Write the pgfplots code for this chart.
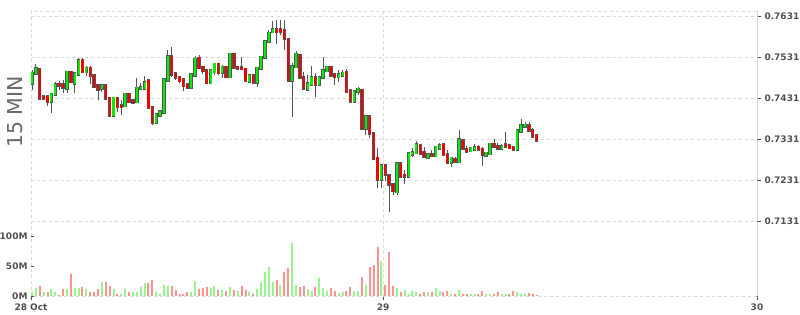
\documentclass[border=0pt]{standalone}
\usepackage{pgfplots}
\pgfplotsset{compat=1.18}
\usepackage{pgfplotstable}
\usepackage{fontspec}
\setmainfont{DejaVu Sans}
\definecolor{cgreen}{RGB}{0,240,0}
\definecolor{cred}{RGB}{240,0,0}
\definecolor{cline}{RGB}{85,85,85}
\definecolor{vgreen}{RGB}{150,245,140}
\definecolor{vred}{RGB}{255,145,145}
\definecolor{gridc}{RGB}{215,215,215}
\definecolor{lblc}{RGB}{80,80,80}
\definecolor{titlec}{RGB}{105,105,105}

\pgfplotstableread{
i o h l c
0 0.74673 0.74996 0.74509 0.74916
1 0.74916 0.75135 0.74899 0.75020
2 0.74996 0.75044 0.74290 0.74307
3 0.74346 0.74363 0.74290 0.74307
4 0.74346 0.74387 0.74120 0.74242
5 0.74242 0.74436 0.73957 0.74405
6 0.74405 0.74712 0.74387 0.74631
7 0.74649 0.74729 0.74509 0.74624
8 0.74631 0.74753 0.74436 0.74576
9 0.74551 0.74947 0.74436 0.74940
10 0.74940 0.74972 0.74680 0.74712
11 0.74673 0.74923 0.74429 0.74899
12 0.74899 0.75296 0.74874 0.75215
13 0.75215 0.75281 0.74923 0.74955
14 0.74955 0.75093 0.74850 0.75037
15 0.75037 0.75093 0.74649 0.74857
16 0.74857 0.74874 0.74583 0.74607
17 0.74607 0.74631 0.74266 0.74527
18 0.74558 0.74656 0.74460 0.74607
19 0.74607 0.74631 0.74290 0.74307
20 0.74307 0.74339 0.73853 0.73901
21 0.73901 0.74339 0.73877 0.74307
22 0.74307 0.74339 0.73974 0.74103
23 0.74127 0.74266 0.73901 0.74103
24 0.74127 0.74436 0.74120 0.74405
25 0.74405 0.74436 0.74193 0.74225
26 0.74242 0.74266 0.74193 0.74217
27 0.74225 0.74802 0.74217 0.74551
28 0.74551 0.74680 0.74509 0.74566
29 0.74551 0.74850 0.74534 0.74687
30 0.74729 0.74753 0.74071 0.74088
31 0.74088 0.74096 0.73657 0.73723
32 0.73723 0.73926 0.73682 0.73901
33 0.73901 0.74023 0.73877 0.73982
34 0.73974 0.74777 0.73926 0.74753
35 0.74753 0.75483 0.74729 0.75320
36 0.75320 0.75563 0.74826 0.74899
37 0.74899 0.74923 0.74753 0.74819
38 0.74802 0.74826 0.74680 0.74736
39 0.74753 0.74777 0.74485 0.74614
40 0.74631 0.74656 0.74558 0.74576
41 0.74576 0.74899 0.74558 0.74874
42 0.74874 0.75344 0.74850 0.75257
43 0.75281 0.75361 0.75044 0.75052
44 0.75061 0.75093 0.74899 0.74979
45 0.74979 0.75020 0.74680 0.74687
46 0.74687 0.74996 0.74680 0.74979
47 0.74955 0.75166 0.74874 0.75135
48 0.75135 0.75166 0.74874 0.74930
49 0.74940 0.75117 0.74801 0.75061
50 0.75061 0.75093 0.74801 0.74833
51 0.74833 0.75386 0.74801 0.75379
52 0.75379 0.75386 0.75044 0.75061
53 0.75061 0.75093 0.74996 0.75037
54 0.75044 0.75312 0.74996 0.75027
55 0.75013 0.75044 0.74704 0.74753
56 0.74729 0.74874 0.74680 0.74850
57 0.74850 0.74874 0.74656 0.74697
58 0.74697 0.75069 0.74576 0.75037
59 0.75037 0.75312 0.75020 0.75305
60 0.75305 0.75702 0.75288 0.75685
61 0.75702 0.75969 0.75677 0.75889
62 0.75928 0.76188 0.75896 0.75969
63 0.75969 0.76212 0.75629 0.75928
64 0.75969 0.76212 0.75847 0.75945
65 0.75952 0.76212 0.75483 0.75767
66 0.75726 0.75750 0.74729 0.74753
67 0.74753 0.75166 0.73840 0.75077
68 0.75077 0.75459 0.75044 0.75379
69 0.75344 0.75386 0.74801 0.74819
70 0.74802 0.74947 0.74509 0.74551
71 0.74534 0.74874 0.74509 0.74656
72 0.74649 0.75093 0.74607 0.74802
73 0.74802 0.74923 0.74346 0.74649
74 0.74649 0.74802 0.74607 0.74802
75 0.74819 0.75305 0.74801 0.74979
76 0.74979 0.75068 0.74947 0.75061
77 0.75061 0.75093 0.74826 0.74874
78 0.74874 0.74923 0.74631 0.74833
79 0.74833 0.74996 0.74704 0.74874
80 0.74874 0.74996 0.74850 0.74916
81 0.74940 0.75020 0.74460 0.74485
82 0.74485 0.74509 0.74217 0.74242
83 0.74242 0.74509 0.74217 0.74468
84 0.74485 0.74583 0.74387 0.74527
85 0.74502 0.74534 0.73560 0.73578
86 0.73578 0.73877 0.73415 0.73860
87 0.73860 0.73877 0.73341 0.73455
88 0.73439 0.73463 0.72806 0.72847
89 0.72847 0.73099 0.72125 0.72344
90 0.72344 0.72709 0.72125 0.72666
91 0.72666 0.72709 0.72296 0.72459
92 0.72424 0.72466 0.71549 0.72215
93 0.72198 0.72247 0.71954 0.72059
94 0.72035 0.72733 0.71954 0.72709
95 0.72709 0.72733 0.72393 0.72417
96 0.72434 0.72563 0.72223 0.72417
97 0.72417 0.73001 0.72369 0.72952
98 0.72945 0.73099 0.72879 0.72984
99 0.72984 0.73269 0.72952 0.73172
100 0.73148 0.73172 0.72928 0.72970
101 0.72994 0.73123 0.72879 0.72904
102 0.72871 0.72977 0.72830 0.72928
103 0.72936 0.73050 0.72879 0.72921
104 0.72911 0.73148 0.72879 0.73116
105 0.73099 0.73220 0.73074 0.73148
106 0.73172 0.73228 0.72904 0.72945
107 0.72928 0.73050 0.72733 0.72750
108 0.72750 0.72879 0.72627 0.72847
109 0.72823 0.72879 0.72757 0.72782
110 0.72765 0.73536 0.72757 0.73293
111 0.73276 0.73293 0.73074 0.73091
112 0.73067 0.73148 0.73001 0.73026
113 0.73033 0.73123 0.73001 0.73091
114 0.73074 0.73196 0.73050 0.73106
115 0.73116 0.73172 0.73026 0.73067
116 0.73067 0.73123 0.72666 0.72945
117 0.72928 0.73001 0.72879 0.72970
118 0.72960 0.73220 0.72928 0.73188
119 0.73188 0.73310 0.73123 0.73148
120 0.73131 0.73220 0.73074 0.73091
121 0.73099 0.73196 0.73074 0.73123
122 0.73172 0.73480 0.73123 0.73148
123 0.73148 0.73196 0.73074 0.73106
124 0.73106 0.73148 0.73050 0.73067
125 0.73067 0.73512 0.73050 0.73512
126 0.73512 0.73796 0.73487 0.73633
127 0.73626 0.73730 0.73584 0.73650
128 0.73633 0.73730 0.73512 0.73536
129 0.73519 0.73584 0.73366 0.73390
130 0.73390 0.73439 0.73269 0.73293
}\candles

\begin{document}
\begin{tikzpicture}
\begin{axis}[
  at={(0,0)}, anchor=south west,
  scale only axis, width=726pt, height=285pt,
  xmin=-0.258, xmax=186.76, ymin=0.69497, ymax=0.76431,
  xtick={-0.258,90.42,186.76}, xticklabels={28 Oct,29,30},
  ytick={0.7131,0.7231,0.7331,0.7431,0.7531,0.7631},
  yticklabels={0.7131,0.7231,0.7331,0.7431,0.7531,0.7631},
  xtick pos=bottom, ytick pos=right, yticklabel pos=right,
  tick align=outside, major tick length=4pt,
  tick style={draw=lblc, line width=0.8pt},
  tick label style={font=\bfseries\fontsize{9}{10}\selectfont, text=lblc},
  xmajorgrids, ymajorgrids,
  grid style={draw=gridc, dash pattern=on 3pt off 3pt, line width=0.8pt},
  axis line style={draw=gridc, dash pattern=on 3pt off 3pt, line width=0.8pt},
]
% wicks: low to high
\addplot[draw=none, mark=none, forget plot,
  error bars/.cd, y dir=plus, y explicit, error mark=none,
  error bar style={draw=cline, solid, line width=0.8pt}]
  table[x=i, y=l, y error expr={\thisrow{h}-\thisrow{l}}] \candles;
% body outlines
\addplot[draw=none, mark=none, forget plot,
  error bars/.cd, y dir=plus, y explicit, error mark=none,
  error bar style={draw=cline, solid, line width=3.4pt, line cap=rect}]
  table[x=i, y expr={min(\thisrow{o},\thisrow{c})},
        y error expr={abs(\thisrow{c}-\thisrow{o})}] \candles;
% rising bodies
\addplot[draw=none, mark=none, forget plot,
  error bars/.cd, y dir=plus, y explicit, error mark=none,
  error bar style={draw=cgreen, solid, line width=2.1pt, line cap=rect}]
  table[x=i, y expr={\thisrow{c}>=\thisrow{o} ? \thisrow{o} : nan},
        y error expr={abs(\thisrow{c}-\thisrow{o})}] \candles;
% falling bodies
\addplot[draw=none, mark=none, forget plot,
  error bars/.cd, y dir=plus, y explicit, error mark=none,
  error bar style={draw=cred, solid, line width=2.1pt, line cap=rect}]
  table[x=i, y expr={\thisrow{c}<\thisrow{o} ? \thisrow{c} : nan},
        y error expr={abs(\thisrow{c}-\thisrow{o})}] \candles;
\end{axis}
\begin{axis}[
  at={(0,0)}, anchor=south west,
  scale only axis, width=726pt, height=285pt,
  xmin=-0.258, xmax=186.76, ymin=0, ymax=475,
  axis x line=none, axis y line*=left, y axis line style={draw=none},
  ytick={0,50,100}, yticklabels={0M,50M,100M},
  ytick pos=left, tick align=inside, major tick length=3pt,
  tick style={draw=lblc, line width=0.8pt},
  tick label style={font=\bfseries\fontsize{9}{10}\selectfont, text=lblc},
]
\addplot[ycomb, draw=vgreen, line width=2pt] coordinates {
(0,7)(1,14)(3,6)(5,12)(6,6)(9,11)(11,14)(12,14)(14,12)(18,24)(21,12)(23,3)(24,11)(26,6)(27,6)(28,15)(29,21)(32,7)(33,3)(34,19)(35,17)(41,7)(42,25)(46,14)(47,17)(49,10)(51,15)(53,8)(56,7)(58,12)(59,24)(60,40)(61,48)(62,23)(64,19)(67,88)(68,19)(71,11)(72,9)(74,30)(75,13)(76,8)(79,5)(80,7)(83,8)(84,8)(86,18)(90,59)(94,13)(96,10)(97,4)(98,8)(99,7)(102,7)(104,13)(105,8)(108,4)(110,10)(113,4)(114,4)(117,4)(118,4)(121,4)(122,4)(125,6)(126,4)(127,3)
};
\addplot[ycomb, draw=vred, line width=2pt] coordinates {
(2,17)(4,7)(7,2)(8,12)(10,36)(13,15)(15,6)(16,6)(17,12)(19,24)(20,17)(22,3)(25,6)(30,21)(31,27)(36,16)(37,10)(38,3)(39,3)(40,7)(43,12)(44,14)(45,15)(48,10)(50,8)(52,10)(54,17)(55,10)(57,3)(63,26)(65,40)(66,47)(69,15)(70,17)(73,15)(77,13)(78,8)(81,8)(82,15)(85,32)(87,49)(88,51)(89,81)(91,18)(92,74)(93,16)(95,7)(100,4)(101,7)(103,7)(106,7)(107,8)(109,3)(111,3)(112,4)(115,4)(116,8)(119,3)(120,6)(123,3)(124,9)(128,5)(129,3)(130,2)
};
\end{axis}
\node[rotate=90, text=titlec, font=\fontsize{20.5}{22}\selectfont] at (-15.5pt,184pt) {15 MIN};
\pgfresetboundingbox
\path[use as bounding box] (-31pt,-19pt) rectangle (769pt,296pt);
\end{tikzpicture}
\end{document}
